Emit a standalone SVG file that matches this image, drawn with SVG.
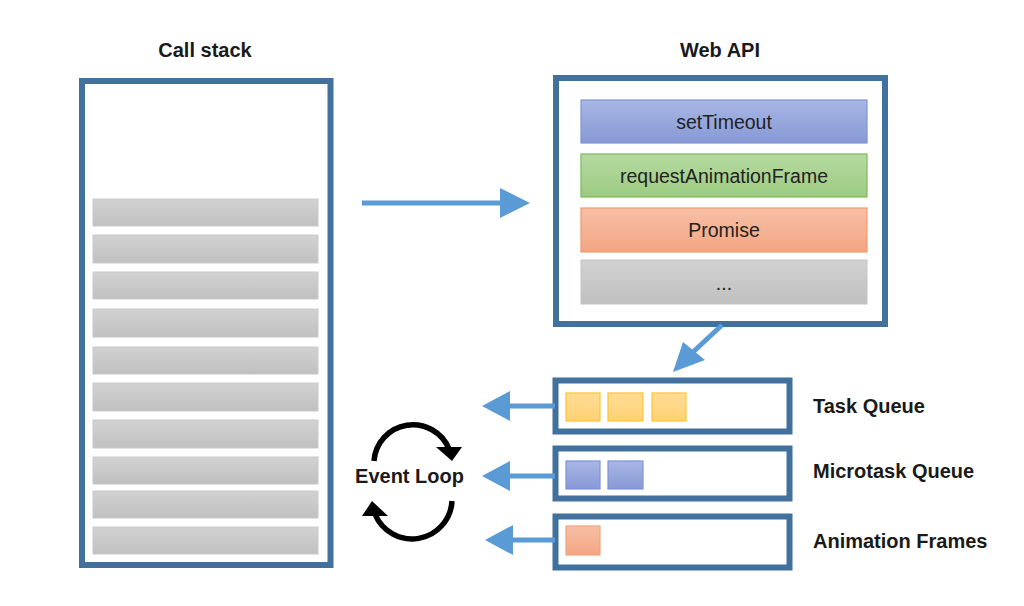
<svg xmlns="http://www.w3.org/2000/svg" width="1024" height="606" viewBox="0 0 1024 606">
<defs>
<linearGradient id="gGray" x1="0" y1="0" x2="0" y2="1"><stop offset="0" stop-color="#D2D2D2"/><stop offset="1" stop-color="#C0C0C0"/></linearGradient>
<linearGradient id="gBlue" x1="0" y1="0" x2="0" y2="1"><stop offset="0" stop-color="#A8B7E4"/><stop offset="1" stop-color="#8799D6"/></linearGradient>
<linearGradient id="gGreen" x1="0" y1="0" x2="0" y2="1"><stop offset="0" stop-color="#B6DAA2"/><stop offset="1" stop-color="#9CCB80"/></linearGradient>
<linearGradient id="gOrange" x1="0" y1="0" x2="0" y2="1"><stop offset="0" stop-color="#F7BFA5"/><stop offset="1" stop-color="#F3A683"/></linearGradient>
<linearGradient id="gYellow" x1="0" y1="0" x2="0" y2="1"><stop offset="0" stop-color="#FFDD98"/><stop offset="1" stop-color="#FFD173"/></linearGradient>
</defs>
<style>
.frame{fill:#fff;stroke:#41719C;stroke-width:6}
.bar{fill:url(#gGray);stroke:#C9C9C9;stroke-width:1}
.title{font-family:"Liberation Sans",Arial,sans-serif;font-weight:bold;font-size:20px;fill:#1a1a1a}
.lbl{font-family:"Liberation Sans",Arial,sans-serif;font-size:19.5px;fill:#222;text-anchor:middle}
.conn{stroke:#5B9BD5;stroke-width:5;fill:none}
.head{fill:#5B9BD5}
.loop{stroke:#000;stroke-width:5.5;fill:none}
.ty{fill:url(#gYellow);stroke:#FFC72C;stroke-width:1.2}
.tb{fill:url(#gBlue);stroke:#7F93D4;stroke-width:1.2}
.to{fill:url(#gOrange);stroke:#F4A27C;stroke-width:1.2}
</style>
<rect width="1024" height="606" fill="#fff"/>

<g id="callstack">
<text class="title" x="205" y="57" text-anchor="middle">Call stack</text>
<rect class="frame" x="82" y="81" width="248.5" height="484"/>
<rect class="bar" x="93" y="199" width="225" height="27"/>
<rect class="bar" x="93" y="235" width="225" height="28"/>
<rect class="bar" x="93" y="272" width="225" height="27"/>
<rect class="bar" x="93" y="309" width="225" height="28"/>
<rect class="bar" x="93" y="347" width="225" height="27"/>
<rect class="bar" x="93" y="383" width="225" height="28"/>
<rect class="bar" x="93" y="420" width="225" height="28"/>
<rect class="bar" x="93" y="457" width="225" height="27"/>
<rect class="bar" x="93" y="491" width="225" height="27"/>
<rect class="bar" x="93" y="527" width="225" height="27"/>
</g>

<g id="webapi">
<text class="title" x="720" y="57" text-anchor="middle">Web API</text>
<rect class="frame" x="556" y="78" width="329" height="246"/>
<rect x="581" y="100" width="286" height="43" fill="url(#gBlue)" stroke="#7F93D4" stroke-width="1.2"/>
<text class="lbl" x="724" y="129">setTimeout</text>
<rect x="581" y="154" width="286" height="43" fill="url(#gGreen)" stroke="#7DB95A" stroke-width="1.2"/>
<text class="lbl" x="724" y="183">requestAnimationFrame</text>
<rect x="581" y="208" width="286" height="44" fill="url(#gOrange)" stroke="#F09A6E" stroke-width="1.2"/>
<text class="lbl" x="724" y="237">Promise</text>
<rect x="581" y="260" width="286" height="44" fill="url(#gGray)" stroke="#C4C4C4" stroke-width="1"/>
<text class="lbl" x="724" y="290">...</text>
</g>

<g id="taskqueue">
<rect class="frame" x="555.5" y="380.5" width="234" height="51"/>
<rect class="ty" x="566" y="393" width="34" height="28"/>
<rect class="ty" x="608" y="393" width="35" height="28"/>
<rect class="ty" x="652" y="393" width="34" height="28"/>
<text class="title" x="813" y="413">Task Queue</text>
</g>

<g id="microtaskqueue">
<rect class="frame" x="555.5" y="448.5" width="234" height="50"/>
<rect class="tb" x="566" y="461" width="34" height="28"/>
<rect class="tb" x="608" y="461" width="35" height="28"/>
<text class="title" x="813" y="478">Microtask Queue</text>
</g>

<g id="animationframes">
<rect class="frame" x="555.5" y="516.5" width="234" height="51"/>
<rect class="to" x="566" y="526" width="34" height="29"/>
<text class="title" x="813" y="548">Animation Frames</text>
</g>

<g id="eventloop">
<text class="title" x="409.5" y="483" text-anchor="middle">Event Loop</text>
<path class="loop" d="M374,461 A39,39 0 0 1 449,449"/>
<polygon points="436,447 462,447 452,461" fill="#000"/>
<path class="loop" d="M452,501 A40,40 0 0 1 375,514"/>
<polygon points="362,516 388,516 372,501" fill="#000"/>
</g>

<g id="connectors">
<line class="conn" x1="362" y1="203" x2="502" y2="203"/>
<polygon class="head" points="500,188 530,203 500,218"/>
<line class="conn" x1="722" y1="325" x2="692" y2="353"/>
<polygon class="head" points="673,372 683,342 705,360"/>
<line class="conn" x1="555" y1="406" x2="508" y2="406"/>
<polygon class="head" points="482,406 510,391 510,421"/>
<line class="conn" x1="555" y1="476" x2="508" y2="476"/>
<polygon class="head" points="482,476 510,461 510,491"/>
<line class="conn" x1="555" y1="540" x2="511" y2="540"/>
<polygon class="head" points="485,540 513,525 513,555"/>
</g>
</svg>
